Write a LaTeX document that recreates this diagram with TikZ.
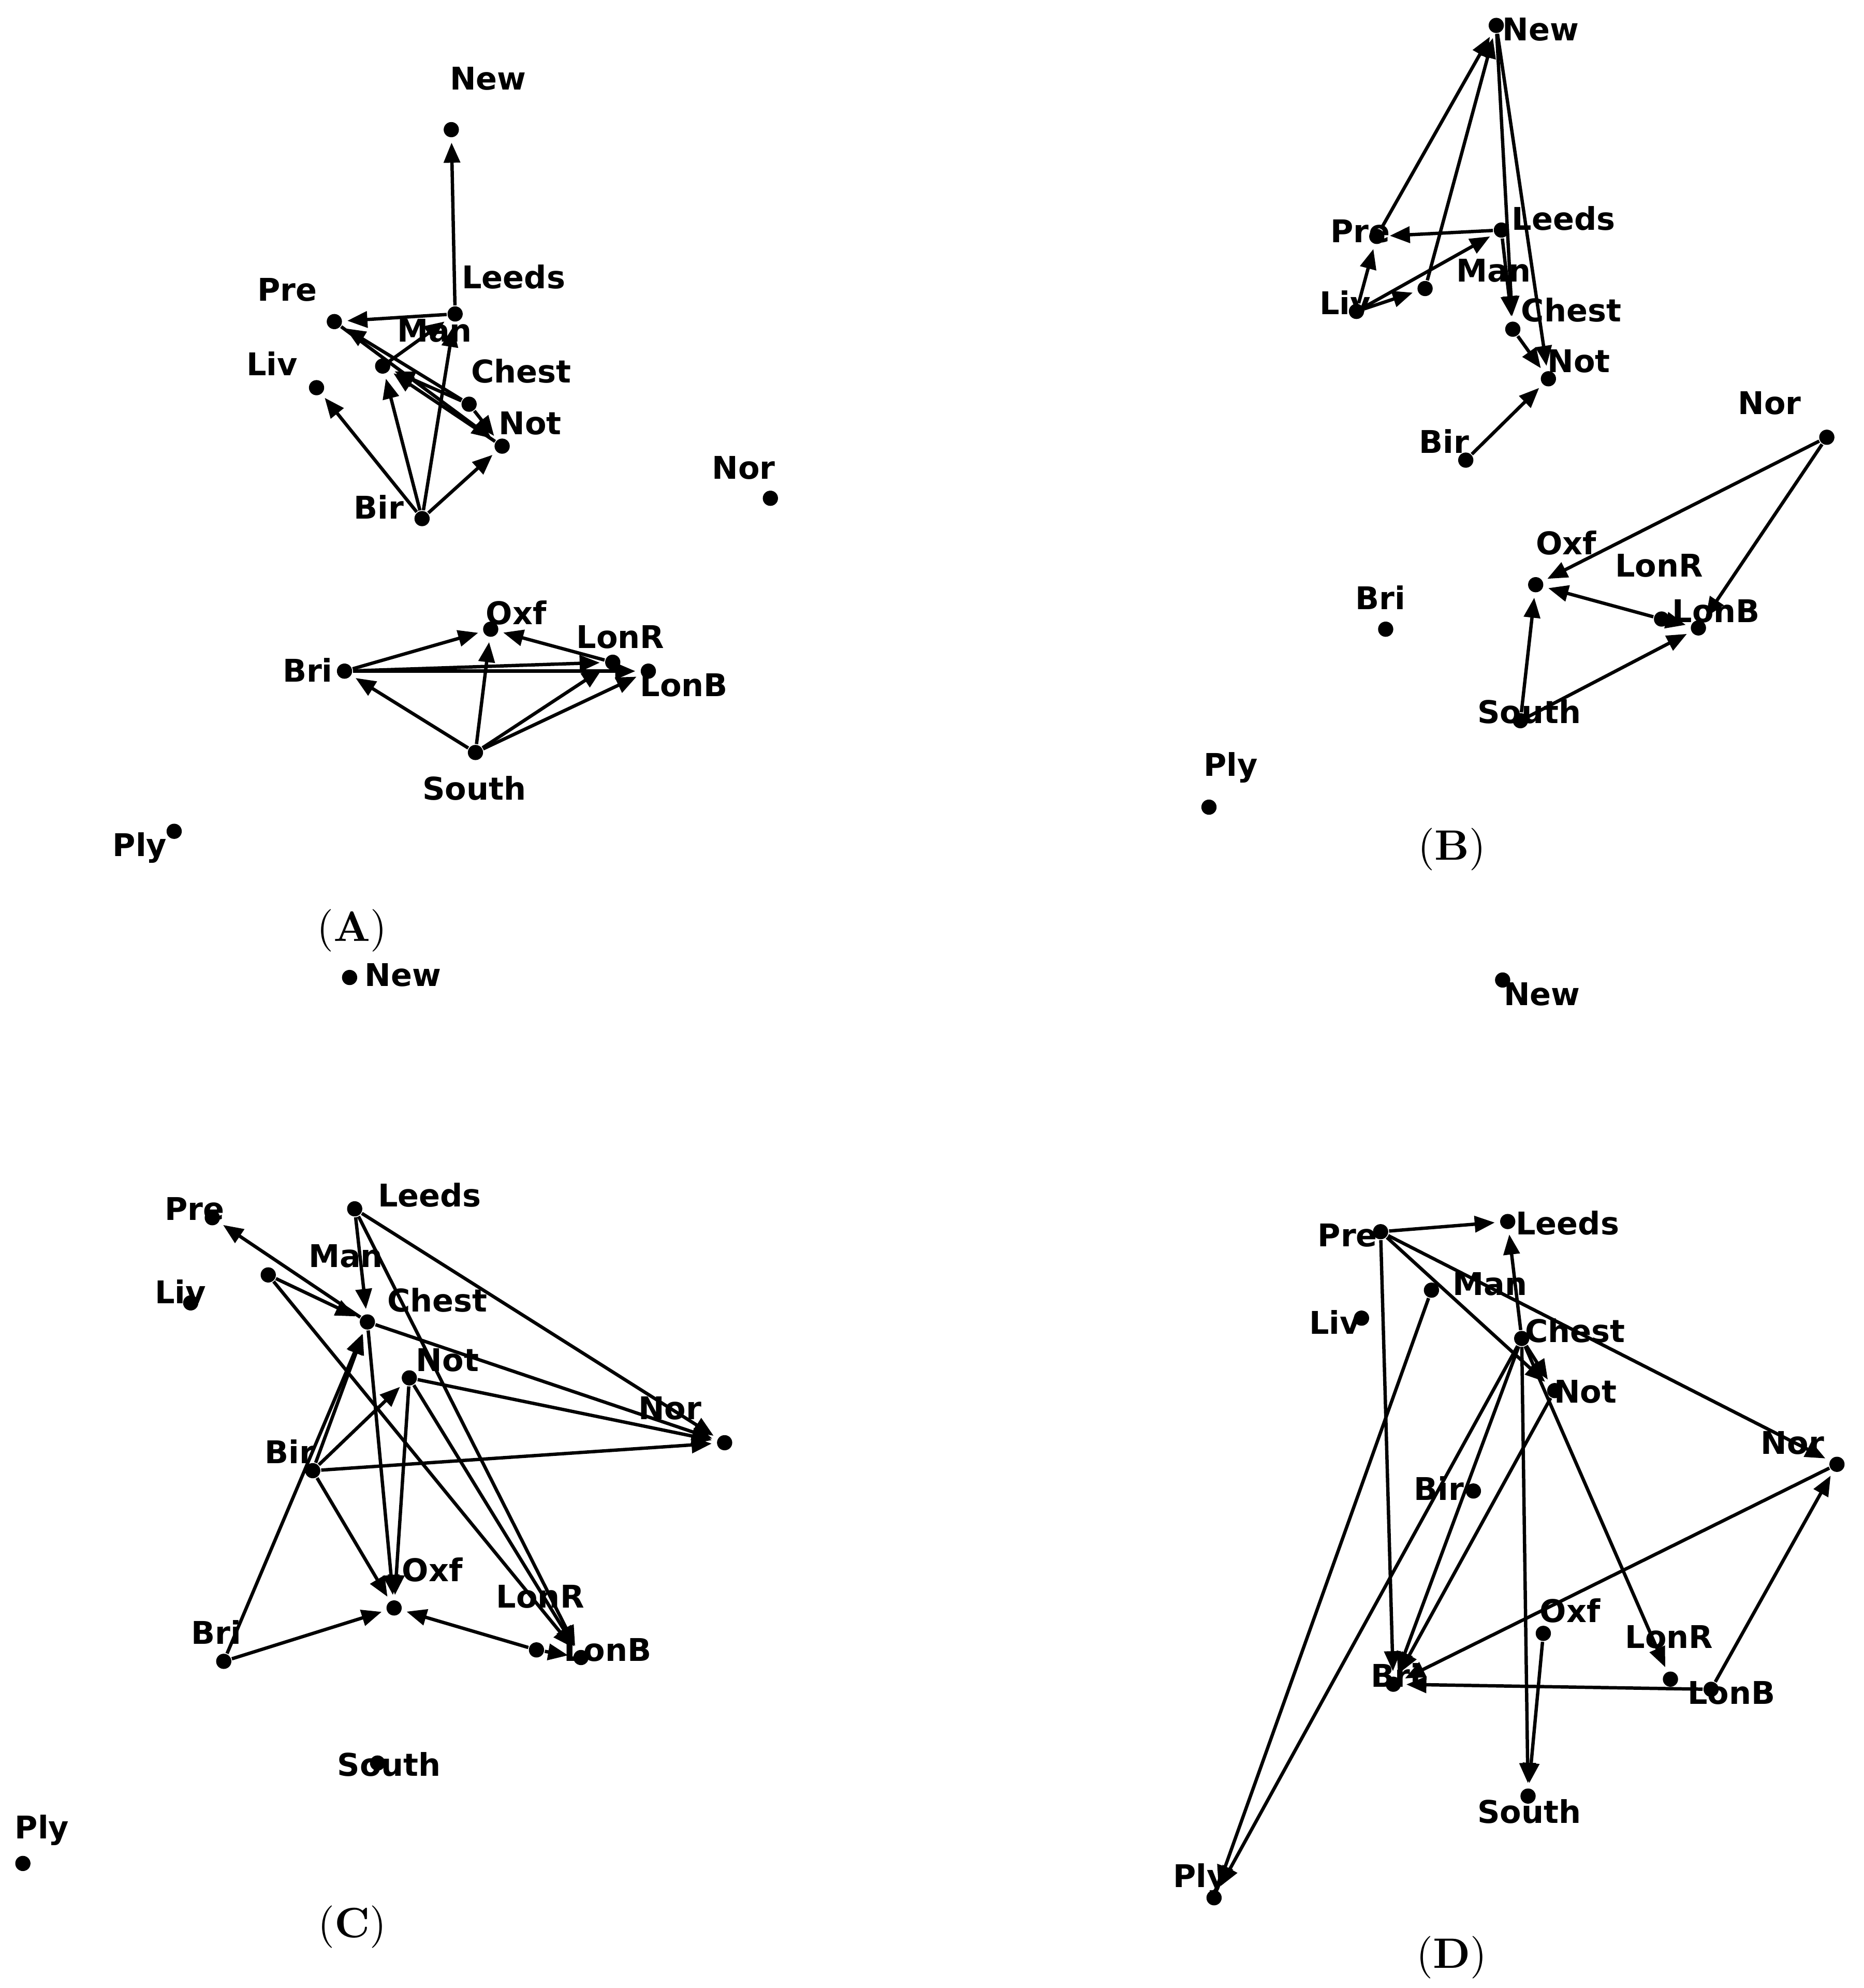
\documentclass[tikz,border=0pt]{standalone}
\usepackage{fontspec}
\newfontfamily\labfont{DejaVu Sans}[BoldFont={DejaVu Sans Bold}]
\usetikzlibrary{arrows.meta}
\begin{document}
\begin{tikzpicture}[x=0.01cm, y=-0.01cm,
    city/.style={circle, fill=black, inner sep=0pt, minimum size=3.4pt},
    lab/.style={font=\labfont\bfseries\fontsize{7}{8}\selectfont, inner sep=0pt},
    panel/.style={font=\fontsize{9.5}{11}\selectfont},
    link/.style={-{Triangle[length=4.5pt, width=3.6pt]}, line width=0.75pt, shorten >=1pt}
  ]
  \useasboundingbox (0,0) rectangle (1466,1564);

  % panel A
  \foreach \n/\x/\y/\lx/\ly in {New/355/102/384/62, Leeds/358/247/404/218, Pre/263/253/226/228,
      Man/301/288/342/260, Liv/249/305/214/286, Chest/369/318/410/292, Not/395/351/417/333,
      Bir/332/408/298/399, Nor/606/392/585/368, Oxf/386/495/406/482, LonR/482/521/488/501,
      LonB/510/528/538/539, Bri/271/528/242/527, South/374/592/373/620, Ply/137/654/110/667} {
    \node[city] (a\n) at (\x,\y) {};
    \node[lab] (a\n-l) at (\lx,\ly) {\n};
  }
  \node[panel] (pA) at (277,732) {(\textbf{A})};
  \foreach \s/\t in {Leeds/New, Leeds/Pre, Man/Leeds, Chest/Pre, Chest/Man, Pre/Not, Chest/Not,
      Not/Man, Bir/Liv, Bir/Man, Bir/Leeds, Bir/Not, Bri/Oxf, Bri/LonR, Bri/LonB, LonR/Oxf,
      South/Bri, South/Oxf, South/LonR, South/LonB}
    \draw[link] (a\s) -- (a\t);

  % panel B
  \foreach \n/\x/\y/\lx/\ly in {New/1177/20/1212/23, Leeds/1181/181/1230/172, Pre/1083/186/1070/182,
      Man/1121/227/1175/213, Liv/1067/245/1058/238, Chest/1190/259/1236/244, Not/1218/298/1242/284,
      Bir/1153/362/1136/347, Nor/1437/344/1392/317, Oxf/1208/460/1232/427, LonR/1307/487/1305/445,
      LonB/1336/494/1350/481, Bri/1090/495/1086/470, South/1196/567/1203/560, Ply/951/635/968/604} {
    \node[city] (b\n) at (\x,\y) {};
    \node[lab] (b\n-l) at (\lx,\ly) {\n};
  }
  \node[panel] (pB) at (1142,668) {(\textbf{B})};
  \foreach \s/\t in {Pre/New, Man/New, Leeds/Pre, Liv/Pre, Liv/Man, Liv/Leeds, New/Chest, New/Not,
      Leeds/Chest, Chest/Not, Bir/Not, Nor/Oxf, Nor/LonB, LonR/Oxf, LonR/LonB, South/Oxf, South/LonB}
    \draw[link] (b\s) -- (b\t);

  % panel C
  \foreach \n/\x/\y/\lx/\ly in {New/275/769/317/767, Leeds/279/951/338/940, Pre/167/958/153/951,
      Man/211/1003/272/988, Liv/150/1025/142/1016, Chest/289/1040/344/1023, Not/322/1084/352/1070,
      Nor/570/1135/527/1108, Bir/246/1157/228/1142, Oxf/310/1265/340/1235, LonR/422/1298/425/1256,
      LonB/457/1304/478/1298, Bri/176/1307/170/1284, South/297/1387/306/1388, Ply/18/1466/33/1440} {
    \node[city] (c\n) at (\x,\y) {};
    \node[lab] (c\n-l) at (\lx,\ly) {\n};
  }
  \node[panel] (pC) at (277,1516) {(\textbf{C})};
  \foreach \s/\t in {Leeds/Chest, Leeds/Nor, Leeds/LonB, Chest/Pre, Man/Chest, Man/LonB, Chest/Nor,
      Chest/Oxf, Not/Nor, Not/LonB, Not/Oxf, Bir/Chest, Bir/Not, Bir/Nor, Bir/Oxf, Bri/Chest,
      Bri/Oxf, LonR/Oxf, LonR/LonB}
    \draw[link] (c\s) -- (c\t);

  % panel D
  \foreach \n/\x/\y/\lx/\ly in {New/1182/771/1213/782, Leeds/1186/961/1233/962, Pre/1086/969/1060/972,
      Man/1126/1015/1172/1010, Liv/1071/1037/1050/1040, Chest/1197/1053/1239/1047, Not/1223/1094/1247/1095,
      Nor/1445/1152/1410/1135, Bir/1159/1173/1132/1171, Oxf/1214/1285/1235/1267, LonR/1314/1321/1313/1288,
      LonB/1346/1329/1362/1332, Bri/1096/1325/1098/1318, South/1202/1413/1203/1425, Ply/955/1493/944/1478} {
    \node[city] (d\n) at (\x,\y) {};
    \node[lab] (d\n-l) at (\lx,\ly) {\n};
  }
  \node[panel] (pD) at (1142,1540) {(\textbf{D})};
  \foreach \s/\t in {Pre/Leeds, Pre/Not, Pre/Nor, Pre/Bri, Chest/Leeds, Chest/Not, Chest/South,
      Chest/Bri, Chest/LonR, Chest/Ply, Man/Ply, Not/Bri, Oxf/South, LonB/Bri, LonB/Nor, Nor/Bri}
    \draw[link] (d\s) -- (d\t);
\end{tikzpicture}
\end{document}
